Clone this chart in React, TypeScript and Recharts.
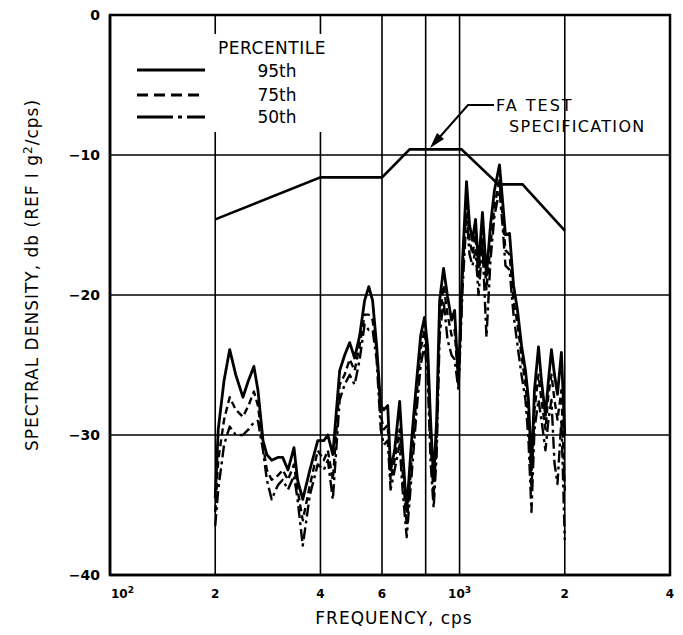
import { LineChart, Line, XAxis, YAxis, CartesianGrid, Customized } from 'recharts'

// frequency, cps (log axis)
const freq = [
  200, 204, 212, 220, 229, 240, 249, 258, 265, 274, 281, 290, 302, 312, 323, 336, 344, 356, 373, 393,
  409, 420, 434, 454, 469, 485, 501, 518, 535, 550, 564, 579, 595, 607, 623, 635, 652, 674, 687, 706,
  729, 754, 774, 794, 810, 826, 843, 860, 877, 900, 924, 949, 968, 993, 1020, 1047, 1068, 1089, 1111, 1133,
  1163, 1194, 1226, 1259, 1301, 1327, 1353, 1390, 1427, 1465, 1504, 1544, 1575, 1606, 1638, 1682, 1715, 1761, 1796, 1832,
  1869, 1906, 1956, 2000,
]

// spectral density, db — 95th percentile
const p95 = [
  -34.5, -29.6, -26.1, -23.9, -25.7, -27.3, -26.1, -25.1, -26.8, -30.4, -31.4, -31.8, -31.6, -31.6, -32.5, -30.9, -33.2, -34.6, -32.5, -30.4,
  -30.4, -30.0, -31.4, -25.4, -24.3, -23.4, -24.5, -22.9, -20.4, -19.4, -20.4, -23.6, -27.9, -28.2, -27.9, -32.5, -31.1, -27.6, -31.1, -35.4,
  -30.4, -26.1, -22.9, -21.6, -23.6, -28.9, -33.2, -28.9, -20.4, -18.1, -20.1, -21.8, -21.1, -26.3, -17.5, -11.9, -15.0, -16.1, -14.6, -18.0,
  -14.1, -18.6, -15.0, -12.5, -10.7, -13.2, -15.7, -15.6, -19.3, -21.1, -23.6, -25.4, -27.5, -32.5, -26.8, -23.7, -26.1, -28.6, -26.1, -23.9,
  -25.7, -27.1, -24.1, -30.0,
]

// 75th percentile
const p75 = [
  -35.5, -31.8, -28.9, -27.3, -28.2, -28.7, -27.9, -26.9, -27.9, -30.7, -32.5, -33.2, -32.9, -32.5, -33.2, -32.1, -33.9, -36.1, -33.6, -31.1,
  -31.8, -31.1, -33.2, -26.4, -25.7, -24.6, -25.4, -23.6, -21.4, -21.4, -21.8, -23.9, -28.6, -29.6, -29.3, -33.2, -31.8, -29.6, -32.5, -36.4,
  -31.8, -27.1, -23.9, -22.5, -24.6, -30.4, -34.3, -30.4, -21.8, -19.3, -21.4, -22.9, -22.5, -26.4, -18.6, -13.2, -16.1, -17.1, -15.7, -18.9,
  -15.4, -19.6, -16.4, -13.6, -11.8, -14.3, -16.8, -17.1, -20.4, -22.1, -24.3, -26.4, -28.9, -33.9, -28.2, -25.7, -27.5, -29.6, -27.1, -25.7,
  -27.5, -28.9, -26.8, -34.0,
]

// 50th percentile
const p50 = [
  -36.5, -33.9, -30.7, -29.4, -30.0, -30.0, -29.6, -29.1, -29.0, -31.1, -33.2, -34.6, -33.6, -33.2, -33.9, -32.9, -34.6, -37.9, -34.3, -32.1,
  -32.5, -31.8, -34.6, -27.5, -26.4, -25.7, -26.4, -24.6, -22.1, -22.5, -22.5, -24.6, -29.6, -30.7, -30.4, -33.9, -32.5, -30.7, -33.9, -37.3,
  -32.9, -28.2, -25.0, -23.6, -25.7, -31.8, -35.2, -31.4, -22.9, -20.4, -23.2, -24.3, -24.6, -26.8, -19.6, -14.3, -17.1, -17.9, -16.8, -20.0,
  -16.4, -23.0, -17.5, -14.3, -12.5, -15.0, -17.9, -18.2, -21.4, -23.6, -25.7, -27.5, -30.4, -35.5, -29.6, -27.5, -28.9, -31.1, -28.9, -27.5,
  -32.0, -33.5, -28.9, -37.5,
]

// FA test specification
const specFreq = [200, 400, 600, 720, 1013, 1292, 1514, 2000]
const specDb = [-14.6, -11.6, -11.6, -9.6, -9.6, -12.1, -12.1, -15.4]

const xTicks = [100, 200, 400, 600, 800, 1000, 2000, 4000]
const xTickLabels = ['10^2', '2', '4', '6', '', '10^3', '2', '4']
const yTicks = [0, -10, -20, -30, -40]
const yTickLabels = ['0', '\u221210', '\u221220', '\u221230', '\u221240']

const percentileData = freq.map((f, i) => ({ f, p95: p95[i], p75: p75[i], p50: p50[i] }))
const specData = specFreq.map((f, i) => ({ f, db: specDb[i] }))

const FONT = '"DejaVu Sans", sans-serif'

function XTick(props: any) {
  const { x, y, payload } = props
  const label = xTickLabels[xTicks.indexOf(payload.value)] || ''
  if (!label) return null
  const [base, exp] = label.split('^')
  const first = payload.value === xTicks[0]
  return (
    <text x={first ? x + 1 : x} y={y + 15} textAnchor={first ? 'start' : 'middle'} fontFamily={FONT} fontWeight="bold" fontSize={12} fill="#000">
      {base}
      {exp && <tspan dy={-5} fontSize={9}>{exp}</tspan>}
    </text>
  )
}

function YTick(props: any) {
  const { x, y, payload } = props
  const label = yTickLabels[yTicks.indexOf(payload.value)]
  return (
    <text x={x - 2} y={y + 5} textAnchor="end" fontFamily={FONT} fontWeight="bold" fontSize={14} fill="#000">
      {label}
    </text>
  )
}

function Decor() {
  return (
    <g fontFamily={FONT} fill="#000">
      {/* legend */}
      <rect x={128} y={34} width={212} height={98} fill="#fff" />
      <text x={272} y={54} textAnchor="middle" fontSize={17} letterSpacing={0.5}>PERCENTILE</text>
      <line x1={137} y1={70} x2={205} y2={70} stroke="#000" strokeWidth={3} />
      <line x1={137} y1={95} x2={205} y2={95} stroke="#000" strokeWidth={3} strokeDasharray="11 6" />
      <line x1={137} y1={117} x2={205} y2={117} stroke="#000" strokeWidth={3} strokeDasharray="36 5 4 5" />
      <text x={277} y={77} textAnchor="middle" fontSize={17}>95th</text>
      <text x={277} y={101} textAnchor="middle" fontSize={17}>75th</text>
      <text x={277} y={123} textAnchor="middle" fontSize={17}>50th</text>

      {/* annotation */}
      <polyline points="494,105 468,105 438,139" fill="none" stroke="#000" strokeWidth={2} />
      <polygon points="430,148 444,139 437,133" fill="#000" />
      <text x={496} y={111} fontSize={16} letterSpacing={2}>FA TEST</text>
      <text x={509} y={132} fontSize={16} letterSpacing={1.3}>SPECIFICATION</text>

      {/* axis titles */}
      <text x={394} y={624} textAnchor="middle" fontSize={17} letterSpacing={1}>FREQUENCY, cps</text>
      <text x={38} y={275} textAnchor="middle" fontSize={17} letterSpacing={1} transform="rotate(-90 38 275)">
        SPECTRAL DENSITY, db (REF I g<tspan dy={-6} fontSize={12}>2</tspan><tspan dy={6}>/cps)</tspan>
      </text>

      {/* plot frame */}
      <rect x={110} y={15} width={560} height={560} fill="none" stroke="#000" strokeWidth={2.5} />
    </g>
  )
}

export default function App() {
  return (
    <div style={{ position: 'absolute', left: 0, top: 0, width: 683, height: 635, background: '#fff' }}>
      <LineChart width={683} height={635} margin={{ top: 15, right: 13, bottom: 30, left: 60 }}>
        <CartesianGrid stroke="#000" strokeWidth={1.6} />
        <XAxis
          dataKey="f"
          type="number"
          scale="log"
          domain={[100, 4000]}
          ticks={xTicks}
          allowDataOverflow
          height={30}
          tick={<XTick />}
          tickLine={false}
          axisLine={{ stroke: '#000', strokeWidth: 2.5 }}
          interval={0}
        />
        <YAxis
          type="number"
          domain={[-40, 0]}
          ticks={yTicks}
          width={50}
          tick={<YTick />}
          tickLine={false}
          axisLine={{ stroke: '#000', strokeWidth: 2.5 }}
          interval={0}
        />
        <Customized component={Decor} />
        <Line data={specData} dataKey="db" stroke="#000" strokeWidth={2.6} dot={false} isAnimationActive={false} />
        <Line data={percentileData} dataKey="p50" stroke="#000" strokeWidth={2.4} strokeDasharray="12 4 3 4" dot={false} strokeLinejoin="round" isAnimationActive={false} />
        <Line data={percentileData} dataKey="p75" stroke="#000" strokeWidth={2.4} strokeDasharray="7 4" dot={false} strokeLinejoin="round" isAnimationActive={false} />
        <Line data={percentileData} dataKey="p95" stroke="#000" strokeWidth={2.8} dot={false} strokeLinejoin="round" isAnimationActive={false} />
      </LineChart>
    </div>
  )
}
